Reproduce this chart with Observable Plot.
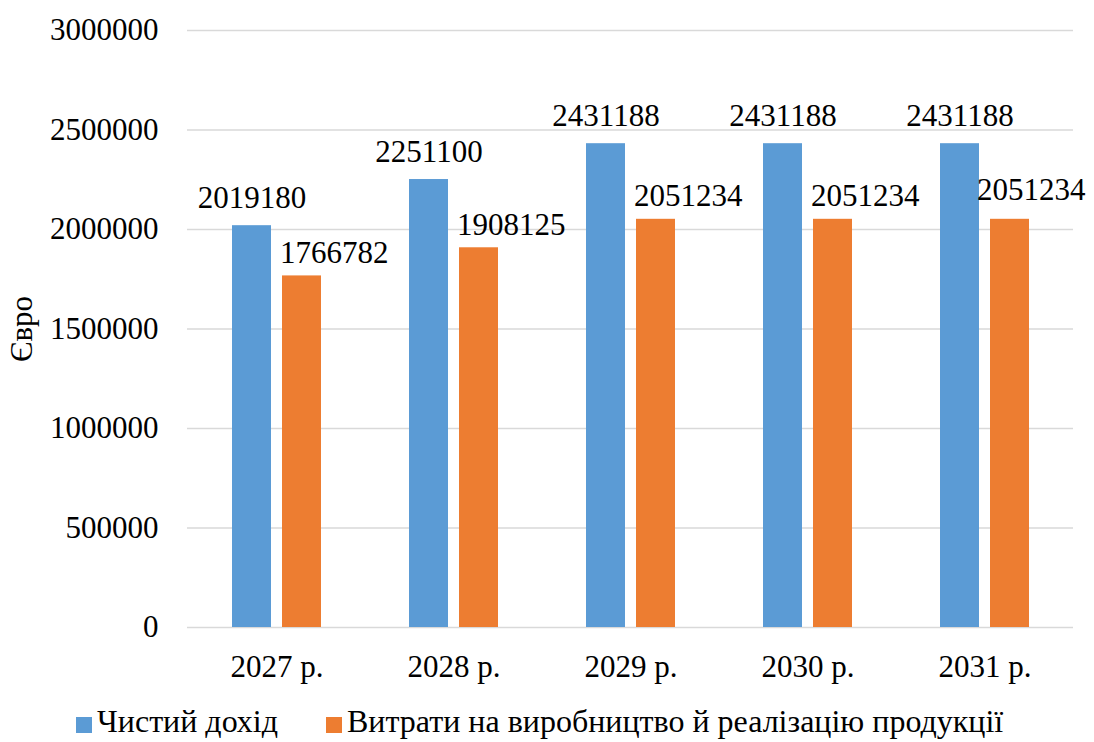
<!DOCTYPE html>
<html>
<head>
<meta charset="utf-8">
<script src="https://cdn.jsdelivr.net/npm/d3@7"></script>
<script src="https://cdn.jsdelivr.net/npm/@observablehq/plot@0.6"></script>
<style>
  body { margin: 0; background: #fff; font-family: "Liberation Serif", "Times New Roman", serif; }
  #chart svg { display: block; }
  .legend { display: flex; justify-content: flex-start; gap: 48px; font-size: 32px; color: #000; margin-top: 13px; padding-left: 76px; }
  .legend .item { display: flex; align-items: center; gap: 5px; }
  .legend .sw { width: 16px; height: 16px; display: inline-block; margin-top: 6px; }
</style>
</head>
<body>
<div id="chart"></div>
<div class="legend" id="legend"></div>
<script>
const years = ["2027 р.", "2028 р.", "2029 р.", "2030 р.", "2031 р."];
const netIncome = [2019180, 2251100, 2431188, 2431188, 2431188];
const costs = [1766782, 1908125, 2051234, 2051234, 2051234];
const seriesNames = ["Чистий дохід", "Витрати на виробництво й реалізацію продукції"];
const seriesColors = ["#5B9BD5", "#ED7D31"];
const yTicks = [0, 500000, 1000000, 1500000, 2000000, 2500000, 3000000];
const yLabel = "Євро";

const serif = "'Liberation Serif', 'Times New Roman', serif";
const blue = years.map((y, i) => ({year: y, value: netIncome[i]}));
const orange = years.map((y, i) => ({year: y, value: costs[i]}));
const lastYear = years[years.length - 1];

const chart = Plot.plot({
  width: 1094,
  height: 690,
  marginLeft: 187,
  marginRight: 21,
  marginTop: 30,
  marginBottom: 63,
  style: {fontFamily: serif, fontSize: "31px", color: "#000", background: "#fff"},
  x: {type: "band", domain: years, padding: 0},
  y: {domain: [0, 3000000]},
  marks: [
    Plot.ruleY(yTicks, {stroke: "#d9d9d9", strokeWidth: 1.5}),
    Plot.barY(blue, {x: "year", y: "value", fill: seriesColors[0], insetLeft: 44, insetRight: 94}),
    Plot.barY(orange, {x: "year", y: "value", fill: seriesColors[1], insetLeft: 94, insetRight: 44}),
    Plot.text(blue, {x: "year", y: "value", text: d => String(d.value), dx: -25, dy: -18, lineAnchor: "bottom", fill: "#000", fontFamily: serif}),
    Plot.text(orange.filter(d => d.year !== lastYear), {x: "year", y: "value", text: d => String(d.value), dx: 3, dy: -13, textAnchor: "start", lineAnchor: "bottom", fill: "#000", fontFamily: serif}),
    Plot.text(orange.filter(d => d.year === lastYear), {x: "year", y: "value", text: d => String(d.value), dx: -8, dy: -19, textAnchor: "start", lineAnchor: "bottom", fill: "#000", fontFamily: serif}),
    Plot.axisY({ticks: yTicks, tickSize: 0, tickPadding: 29, tickFormat: d => String(d), label: yLabel, labelAnchor: "center", labelArrow: "none", labelOffset: 178, fontFamily: serif}),
    Plot.axisX({tickSize: 0, tickPadding: 27, label: null, fontFamily: serif})
  ]
});
document.getElementById("chart").appendChild(chart);

const legend = document.getElementById("legend");
seriesNames.forEach((name, i) => {
  const item = document.createElement("div");
  item.className = "item";
  const sw = document.createElement("span");
  sw.className = "sw";
  sw.style.background = seriesColors[i];
  const t = document.createElement("span");
  t.textContent = name;
  item.appendChild(sw);
  item.appendChild(t);
  legend.appendChild(item);
});
</script>
</body>
</html>
